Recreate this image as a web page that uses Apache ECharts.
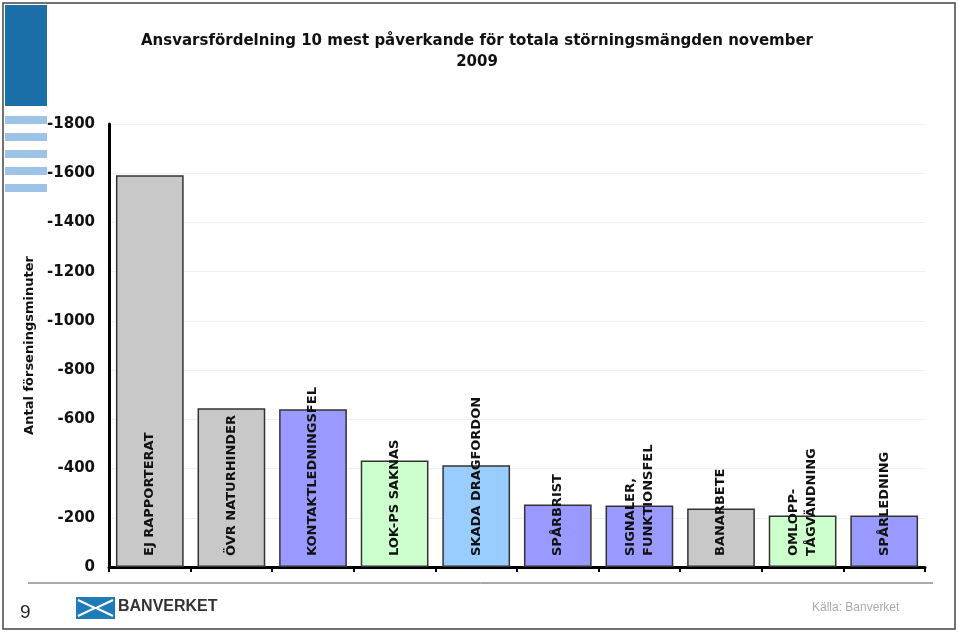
<!DOCTYPE html>
<html><head><meta charset="utf-8">
<script src="https://cdn.jsdelivr.net/npm/echarts@6/dist/echarts.min.js"></script>
<style>html,body{margin:0;padding:0;background:#fff}#c{width:959px;height:633px}</style>
</head><body><div id="c"></div>
<script>
var categories = ['EJ RAPPORTERAT','ÖVR NATURHINDER','KONTAKTLEDNINGSFEL','LOK-PS SAKNAS','SKADA DRAGFORDON','SPÅRBRIST','SIGNALER,\nFUNKTIONSFEL','BANARBETE','OMLOPP-\nTÅGVÄNDNING','SPÅRLEDNING'];
var values = [1592, 645, 641, 433, 413, 254, 250, 238, 209, 209];
var barColors = ['#C8C8C8','#C8C8C8','#9999FF','#CCFFCC','#99CCFF','#9999FF','#9999FF','#C8C8C8','#CCFFCC','#9999FF'];
var yTicks = [0, 200, 400, 600, 800, 1000, 1200, 1400, 1600, 1800];
var titleText = 'Ansvarsfördelning 10 mest påverkande för totala störningsmängden november\n2009';
var yName = 'Antal förseningsminuter';

var chart = echarts.init(document.getElementById('c'));
var stripes = [116, 133, 150, 167, 184].map(function (y) {
  return {type:'rect', shape:{x:5, y:y, width:42, height:8}, style:{fill:'#9DC3E6'}, silent:true};
});
chart.setOption({
  animation:false,
  backgroundColor:'#fff',
  title:{text:titleText, left:472, top:26, textAlign:'center',
    textStyle:{fontFamily:'DejaVu Sans', fontWeight:'bold', fontSize:15, color:'#111', lineHeight:21}},
  grid:{left:109, right:34, top:124, bottom:66, containLabel:false},
  xAxis:{type:'category', data:categories,
    axisLine:{lineStyle:{color:'#000', width:3}},
    axisTick:{show:true, interval:0, length:5, lineStyle:{color:'#000', width:2}},
    axisLabel:{show:false, interval:0}, splitLine:{show:false}},
  yAxis:{type:'value', min:yTicks[0], max:yTicks[yTicks.length-1], interval:200,
    name:yName, nameLocation:'middle', nameGap:71, nameRotate:90,
    nameTextStyle:{fontFamily:'DejaVu Sans', fontWeight:'bold', fontSize:13, color:'#111'},
    axisLine:{show:true, lineStyle:{color:'#000', width:3}},
    axisTick:{show:false},
    axisLabel:{margin:14, fontFamily:'DejaVu Sans', fontWeight:'bold', fontSize:15, color:'#111',
      formatter:function(v){return v===0?'0':'-'+v;}},
    splitLine:{show:true, lineStyle:{color:'#F0F0F0', width:1}}},
  series:[{type:'bar', barCategoryGap:'17%',
    data:values.map(function(v,i){return {value:v, itemStyle:{color:barColors[i]}};}),
    itemStyle:{borderColor:'#333', borderWidth:1.5},
    label:{show:true, position:'insideBottom', distance:11, rotate:90, align:'left', verticalAlign:'middle',
      fontFamily:'DejaVu Sans', fontWeight:'bold', fontSize:13, color:'#111', lineHeight:18,
      formatter:function(p){return categories[p.dataIndex];}}}],
  graphic:[
    {type:'rect', shape:{x:3, y:3, width:952, height:626}, style:{fill:null, stroke:'#444', lineWidth:1.5}, silent:true, z:-1},
    {type:'rect', shape:{x:5, y:5, width:42, height:101}, style:{fill:'#1A6FA8'}, silent:true},
  ].concat(stripes).concat([
    {type:'line', shape:{x1:28, y1:583, x2:933, y2:583}, style:{stroke:'#555', lineWidth:1}, silent:true},
    {type:'text', left:20, top:603, style:{text:'9', fontFamily:'Liberation Sans', fontSize:19, fill:'#222'}, silent:true},
    {type:'rect', shape:{x:76, y:597, width:39, height:22}, style:{fill:'#1F7AB8'}, silent:true},
    {type:'polyline', shape:{points:[[78,600],[95,608],[78,616]]}, style:{stroke:'#fff', lineWidth:2, fill:null}, silent:true},
    {type:'polyline', shape:{points:[[113,600],[96,608],[113,616]]}, style:{stroke:'#fff', lineWidth:2, fill:null}, silent:true},
    {type:'text', left:118, top:599, style:{text:'BANVERKET', fontFamily:'Liberation Sans', fontWeight:'bold', fontSize:16, fill:'#333'}, silent:true},
    {type:'text', left:812, top:602, style:{text:'Källa: Banverket', fontFamily:'Liberation Sans', fontSize:12, fill:'#AAA'}, silent:true}
  ])
});
</script></body></html>
